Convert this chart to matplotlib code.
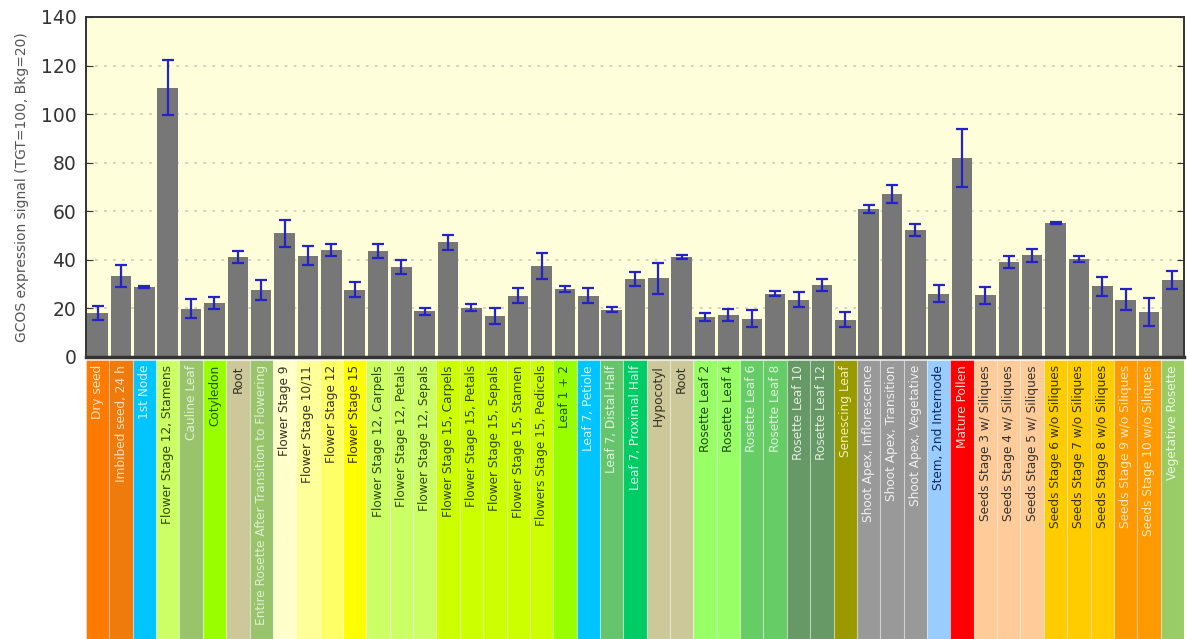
import matplotlib
matplotlib.use("Agg")
import matplotlib.pyplot as plt
import numpy as np

# Tissue samples, mean GCOS signal and error (+/-)
labels = [
    "Dry seed", "Imbibed seed, 24 h", "1st Node", "Flower Stage 12, Stamens",
    "Cauline Leaf", "Cotyledon", "Root",
    "Entire Rosette After Transition to Flowering", "Flower Stage 9",
    "Flower Stage 10/11", "Flower Stage 12", "Flower Stage 15",
    "Flower Stage 12, Carpels", "Flower Stage 12, Petals",
    "Flower Stage 12, Sepals", "Flower Stage 15, Carpels",
    "Flower Stage 15, Petals", "Flower Stage 15, Sepals",
    "Flower Stage 15, Stamen", "Flowers Stage 15, Pedicels", "Leaf 1 + 2",
    "Leaf 7, Petiole", "Leaf 7, Distal Half", "Leaf 7, Proximal Half",
    "Hypocotyl", "Root", "Rosette Leaf 2", "Rosette Leaf 4", "Rosette Leaf 6",
    "Rosette Leaf 8", "Rosette Leaf 10", "Rosette Leaf 12", "Senescing Leaf",
    "Shoot Apex, Inflorescence", "Shoot Apex, Transition",
    "Shoot Apex, Vegetative", "Stem, 2nd Internode", "Mature Pollen",
    "Seeds Stage 3 w/ Siliques", "Seeds Stage 4 w/ Siliques",
    "Seeds Stage 5 w/ Siliques", "Seeds Stage 6 w/o Siliques",
    "Seeds Stage 7 w/o Siliques", "Seeds Stage 8 w/o Siliques",
    "Seeds Stage 9 w/o Siliques", "Seeds Stage 10 w/o Siliques",
    "Vegetative Rosette",
]
values = [
    18.1, 33.5, 28.8, 110.9, 19.9, 22.2, 41.2, 27.7, 50.9, 41.7, 44.0, 27.7,
    43.6, 37.0, 18.9, 47.2, 20.3, 17.0, 25.3, 37.5, 28.0, 25.3, 19.5, 32.1,
    32.4, 41.2, 16.5, 17.2, 15.8, 26.1, 23.6, 29.5, 15.4, 60.9, 67.2, 52.4,
    26.1, 82.0, 25.4, 39.1, 41.8, 55.1, 40.3, 29.1, 23.6, 18.5, 31.8,
]
errors = [
    3.0, 4.5, 0.5, 11.3, 3.8, 2.5, 2.3, 4.2, 5.5, 3.9, 2.4, 3.0,
    3.0, 3.0, 1.4, 3.0, 1.5, 3.3, 3.0, 5.3, 1.4, 3.0, 1.0, 3.0,
    6.5, 1.0, 1.6, 2.5, 3.4, 0.9, 3.2, 2.5, 3.0, 1.8, 3.8, 2.5,
    3.4, 12.0, 3.4, 2.3, 2.8, 0.3, 1.3, 4.0, 4.2, 5.6, 3.8,
]
cell_colors = [
    "#ff7a00", "#ee7b0c", "#00c4ff", "#ccff66", "#99c46c", "#99ff00",
    "#ccc89a", "#99c46c", "#ffffcc", "#ffff99", "#ffff66", "#ffff00",
    "#ccff66", "#ccff66", "#ccff66", "#ccff00", "#ccff00", "#ccff00",
    "#ccff00", "#ccff00", "#99ff00", "#00c4ff", "#66c46c", "#00cc66",
    "#ccc89a", "#ccc89a", "#99ff66", "#99ff66", "#66cc66", "#66cc66",
    "#669966", "#669966", "#999900", "#999999", "#999999", "#999999",
    "#99ccff", "#ff0000", "#ffcc99", "#ffcc99", "#ffcc99", "#ffcc00",
    "#ffcc00", "#ffcc00", "#ff9900", "#ff9900", "#99cc66",
]
text_colors = [
    "#ffe8cc", "#ffe0c0", "#d8f4ff", "#334400", "#e4f0d8", "#1f5500",
    "#333322", "#e0eed4", "#333322", "#333322", "#333322", "#333300",
    "#334400", "#334400", "#334400", "#334400", "#334400", "#334400",
    "#334400", "#334400", "#1f5500", "#d8f4ff", "#e0f2e0", "#d8f8e8",
    "#333322", "#333322", "#1f4a10", "#1f4a10", "#e0f2e0", "#e0f2e0",
    "#e0eee0", "#e0eee0", "#f0f0b0", "#f0f0f0", "#f0f0f0", "#f0f0f0",
    "#10285a", "#ffd8d8", "#333333", "#333333", "#333333", "#333300",
    "#333300", "#333300", "#ffe8c8", "#ffe8c8", "#eef6e4",
]

W, H = 1187, 639
fig = plt.figure(figsize=(W / 100, H / 100), dpi=100)
fig.patch.set_facecolor("white")

ax_left, ax_right = 86 / W, 1184 / W
ax_top, ax_bot = 1 - 17 / H, 1 - 357 / H
ax = fig.add_axes([ax_left, ax_bot, ax_right - ax_left, ax_top - ax_bot])
ax.set_facecolor("#fefedb")

x = np.arange(len(values))
ax.bar(x, values, width=0.88, color="#777777", zorder=2)
ax.errorbar(x, values, yerr=errors, fmt="none", ecolor="#2323c8",
            elinewidth=1.6, capsize=4.5, capthick=1.6, zorder=3)

ax.set_xlim(-0.5, len(values) - 0.5)
ax.set_ylim(0, 140)
ax.set_yticks(np.arange(0, 141, 20))
ax.set_xticks([])
ax.yaxis.grid(True, linestyle=(0, (1.5, 3.5)), color="#cfcfbc",
              linewidth=1.3, zorder=1)
ax.tick_params(axis="y", direction="in", right=True, length=5,
               labelsize=13.5, labelcolor="#333333", color="#333333", pad=7)
for s in ax.spines.values():
    s.set_color("#333333")
    s.set_linewidth(1.4)
ax.spines["bottom"].set_linewidth(2.5)
ax.set_ylabel("GCOS expression signal (TGT=100, Bkg=20)", fontsize=10,
              color="#555555", labelpad=8)

# Colored label strip under the bars
strip_top = 1 - 360 / H
sx = fig.add_axes([ax_left, 0, ax_right - ax_left, strip_top])
sx.bar(x, np.ones(len(values)), width=1.0, color=cell_colors,
       edgecolor=(1, 1, 1, 0.35), linewidth=0.8)
sx.set_xlim(-0.5, len(values) - 0.5)
sx.set_ylim(0, 1)
sx.axis("off")
for i, (lab, tc) in enumerate(zip(labels, text_colors)):
    sx.text(i, 0.982, lab, rotation=90, ha="center", va="top",
            fontsize=8.7, color=tc)

fig.savefig("out.png", dpi=100, facecolor="white")
